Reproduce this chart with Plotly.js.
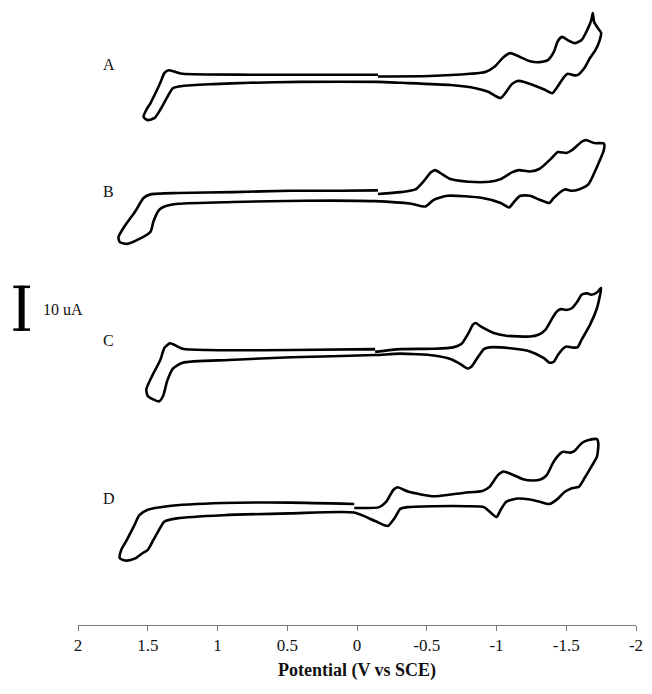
<!DOCTYPE html>
<html>
<head>
<meta charset="utf-8">
<script src="https://cdn.plot.ly/plotly-3.0.1.min.js"></script>
<style>html,body{margin:0;padding:0;background:#fff;}#chart{width:652px;height:694px;}</style>
</head>
<body>
<div id="chart"></div>
<script>
// Cyclic voltammograms: potential (V vs SCE) and current (uA, relative to scan start)
var curveNames = ["A", "B", "C", "D"];
var curveOffsets = [121.9, 95.8, 60.7, 26.0]; // vertical stacking offset of each CV (uA)

var potentialA = [-0.15,-0.52,-0.81,-0.92,-0.99,-1.05,-1.10,-1.15,-1.24,-1.31,-1.37,-1.41,-1.44,-1.47,-1.51,-1.56,-1.61,-1.65,-1.68,-1.69,-1.70,-1.73,-1.75,-1.74,-1.71,-1.67,-1.63,-1.58,-1.55,-1.51,-1.48,-1.43,-1.40,-1.35,-1.28,-1.20,-1.15,-1.11,-1.07,-1.03,-0.99,-0.94,-0.85,-0.67,-0.31,-0.15,0.41,0.77,1.03,1.25,1.32,1.36,1.41,1.45,1.50,1.53,1.51,1.48,1.44,1.41,1.38,1.35,1.30,1.25,0.77,0.27,-0.15];
var currentA = [0,0.1,0.6,1.0,2.3,4.3,5.2,4.6,3.4,3.2,3.7,5.4,7.9,8.8,8.1,7.4,8.1,10.3,12.6,14.1,12.1,10.6,9.7,8.1,5.9,4.1,1.9,0.3,0.3,0.6,-0.3,-2.6,-3.7,-3.0,-2.1,-1.2,-1.0,-1.7,-3.4,-4.8,-4.3,-3.4,-2.6,-1.9,-1.4,-1.2,-1.2,-1.4,-1.7,-2.1,-2.6,-4.6,-7.4,-9.2,-9.7,-9.0,-7.4,-5.9,-3.4,-1.4,0.8,1.4,1.0,0.6,0.4,0.4,0.4];

var potentialB = [-0.15,-0.31,-0.42,-0.48,-0.53,-0.56,-0.61,-0.67,-0.80,-0.95,-1.03,-1.11,-1.16,-1.24,-1.31,-1.39,-1.44,-1.50,-1.54,-1.61,-1.64,-1.70,-1.77,-1.77,-1.72,-1.66,-1.59,-1.54,-1.49,-1.41,-1.38,-1.31,-1.24,-1.17,-1.13,-1.09,-1.03,-0.90,-0.65,-0.55,-0.49,-0.39,-0.13,0.38,0.89,1.28,1.38,1.42,1.46,1.48,1.56,1.65,1.70,1.71,1.66,1.59,1.53,1.48,1.28,0.89,0.48,0.12,-0.15];
var currentB = [0,0.4,1.0,2.9,4.8,5.3,4.4,3.3,2.7,2.7,3.3,4.8,5.3,5.0,5.6,7.8,9.3,9.1,9.7,11.6,12.0,11.3,11.2,9.8,6.0,2.2,1.0,0.7,1.0,-0.9,-2.0,-1.3,-0.4,-0.4,-1.6,-3.0,-2.0,-0.9,-0.4,-1.3,-2.8,-2.2,-1.6,-1.5,-1.8,-2.2,-2.8,-3.6,-6.2,-8.4,-10.0,-11.1,-10.7,-9.6,-6.9,-3.9,-0.9,-0.1,0.2,0.4,0.7,0.7,0.8];

var potentialC = [-0.13,-0.31,-0.55,-0.69,-0.75,-0.80,-0.83,-0.85,-0.89,-0.98,-1.07,-1.24,-1.30,-1.35,-1.40,-1.43,-1.46,-1.50,-1.54,-1.58,-1.61,-1.65,-1.68,-1.72,-1.75,-1.74,-1.72,-1.67,-1.61,-1.58,-1.54,-1.50,-1.48,-1.44,-1.41,-1.38,-1.34,-1.24,-1.10,-0.95,-0.91,-0.87,-0.82,-0.79,-0.75,-0.67,-0.55,-0.31,-0.13,0.47,0.92,1.25,1.32,1.36,1.39,1.42,1.50,1.51,1.46,1.41,1.38,1.34,1.25,1.07,0.47,-0.13];
var currentC = [0,0.6,0.7,1.0,1.8,4.2,6.0,6.4,5.6,4.2,3.6,3.4,3.8,4.9,7.5,8.9,9.5,9.3,9.7,11.2,12.7,13.0,12.7,13.2,14.2,12.3,9.7,6.0,2.7,1.0,1.0,1.2,0.8,-0.7,-2.2,-2.4,-1.4,0.1,0.8,1.0,0.6,-1.0,-3.3,-3.7,-2.9,-1.6,-0.8,-0.4,-0.7,-1.2,-1.8,-2.4,-3.7,-6.4,-9.8,-11.0,-9.8,-8.3,-4.8,-1.8,0.9,1.9,0.7,0.4,0.4,0.6];

var potentialD = [0.02,-0.16,-0.21,-0.26,-0.29,-0.37,-0.55,-0.67,-0.77,-0.90,-0.95,-1.01,-1.05,-1.10,-1.19,-1.26,-1.32,-1.36,-1.41,-1.46,-1.48,-1.53,-1.56,-1.61,-1.66,-1.72,-1.73,-1.72,-1.68,-1.63,-1.59,-1.54,-1.49,-1.43,-1.38,-1.31,-1.24,-1.15,-1.07,-1.03,-1.00,-0.91,-0.79,-0.55,-0.36,-0.31,-0.27,-0.22,-0.13,0.02,0.48,0.96,1.29,1.38,1.42,1.46,1.50,1.54,1.59,1.65,1.70,1.69,1.65,1.60,1.56,1.50,1.36,0.96,0.48,0.02];
var currentD = [0,0.2,1.4,4.0,4.6,3.6,2.6,3.0,3.4,3.8,4.7,7.3,8.1,7.6,6.4,6.1,6.4,7.3,10.3,12.2,12.5,12.3,12.7,14.4,15.1,15.3,14.4,11.4,9.2,6.6,4.7,4.4,3.6,1.8,0.9,1.4,1.9,2.1,1.4,-0.4,-2.0,0.2,0.4,0.4,0.2,-0.2,-2.2,-4.0,-2.9,-1.0,-1.2,-1.6,-2.3,-3.0,-4.9,-7.1,-9.3,-10.1,-11.2,-11.7,-11.2,-9.3,-7.1,-4.1,-1.6,-0.4,0.4,1.1,1.2,0.9];

var xTickValues = [2, 1.5, 1, 0.5, 0, -0.5, -1, -1.5, -2];
var xTickLabels = ["2", "1.5", "1", "0.5", "0", "-0.5", "-1", "-1.5", "-2"];
var scaleBarValue = 10; // uA
var labelPotential = 1.78;

var potentials = [potentialA, potentialB, potentialC, potentialD];
var currents = [currentA, currentB, currentC, currentD];

var traces = curveNames.map(function (name, i) {
  return {
    x: potentials[i],
    y: currents[i].map(function (v) { return v + curveOffsets[i]; }),
    mode: "lines",
    name: name,
    line: { color: "#000", width: 2.6, shape: "spline", smoothing: 0.6 },
    hoverinfo: "skip"
  };
});

var serif = "Liberation Serif, Times New Roman, serif";

var annotations = curveNames.map(function (name, i) {
  var labelCurrent = [2.6, 0.6, 2.6, 2.2][i];
  return {
    x: labelPotential, y: curveOffsets[i] + labelCurrent, xref: "x", yref: "y",
    xanchor: "center", yanchor: "middle",
    text: name, showarrow: false, font: { family: serif, size: 16, color: "#111" }
  };
});
var barBottom = 65.4;
annotations.push({
  x: -0.026, y: barBottom + scaleBarValue * 0.5 - 0.3, xref: "paper", yref: "y",
  xanchor: "center", yanchor: "middle",
  text: scaleBarValue + " uA", showarrow: false, font: { family: serif, size: 16, color: "#111" }
});

var barX = -0.101;
var shapes = [
  { type: "line", xref: "paper", yref: "y", x0: barX, x1: barX, y0: barBottom, y1: barBottom + scaleBarValue, line: { color: "#000", width: 6 } },
  { type: "line", xref: "paper", yref: "y", x0: barX - 0.015, x1: barX + 0.015, y0: barBottom + 0.25, y1: barBottom + 0.25, line: { color: "#000", width: 2.5 } },
  { type: "line", xref: "paper", yref: "y", x0: barX - 0.015, x1: barX + 0.015, y0: barBottom + scaleBarValue - 0.25, y1: barBottom + scaleBarValue - 0.25, line: { color: "#000", width: 2.5 } }
];

var layout = {
  width: 652, height: 694,
  margin: { l: 78, r: 16, t: 0, b: 69 },
  paper_bgcolor: "#fff", plot_bgcolor: "#fff",
  showlegend: false,
  xaxis: {
    range: [2, -2], tickmode: "array", tickvals: xTickValues, ticktext: xTickLabels,
    ticks: "outside", ticklen: 5, tickwidth: 1, tickcolor: "#777",
    showline: true, linecolor: "#777", linewidth: 1,
    showgrid: false, zeroline: false,
    tickfont: { family: serif, size: 17, color: "#111" },
    title: { text: "<b>Potential (V vs SCE)</b>", font: { family: serif, size: 18, color: "#111" }, standoff: 8 }
  },
  yaxis: { range: [0, 138.9], visible: false, showgrid: false, zeroline: false },
  annotations: annotations,
  shapes: shapes
};

Plotly.newPlot("chart", traces, layout, { staticPlot: true, displayModeBar: false });
</script>
</body>
</html>
